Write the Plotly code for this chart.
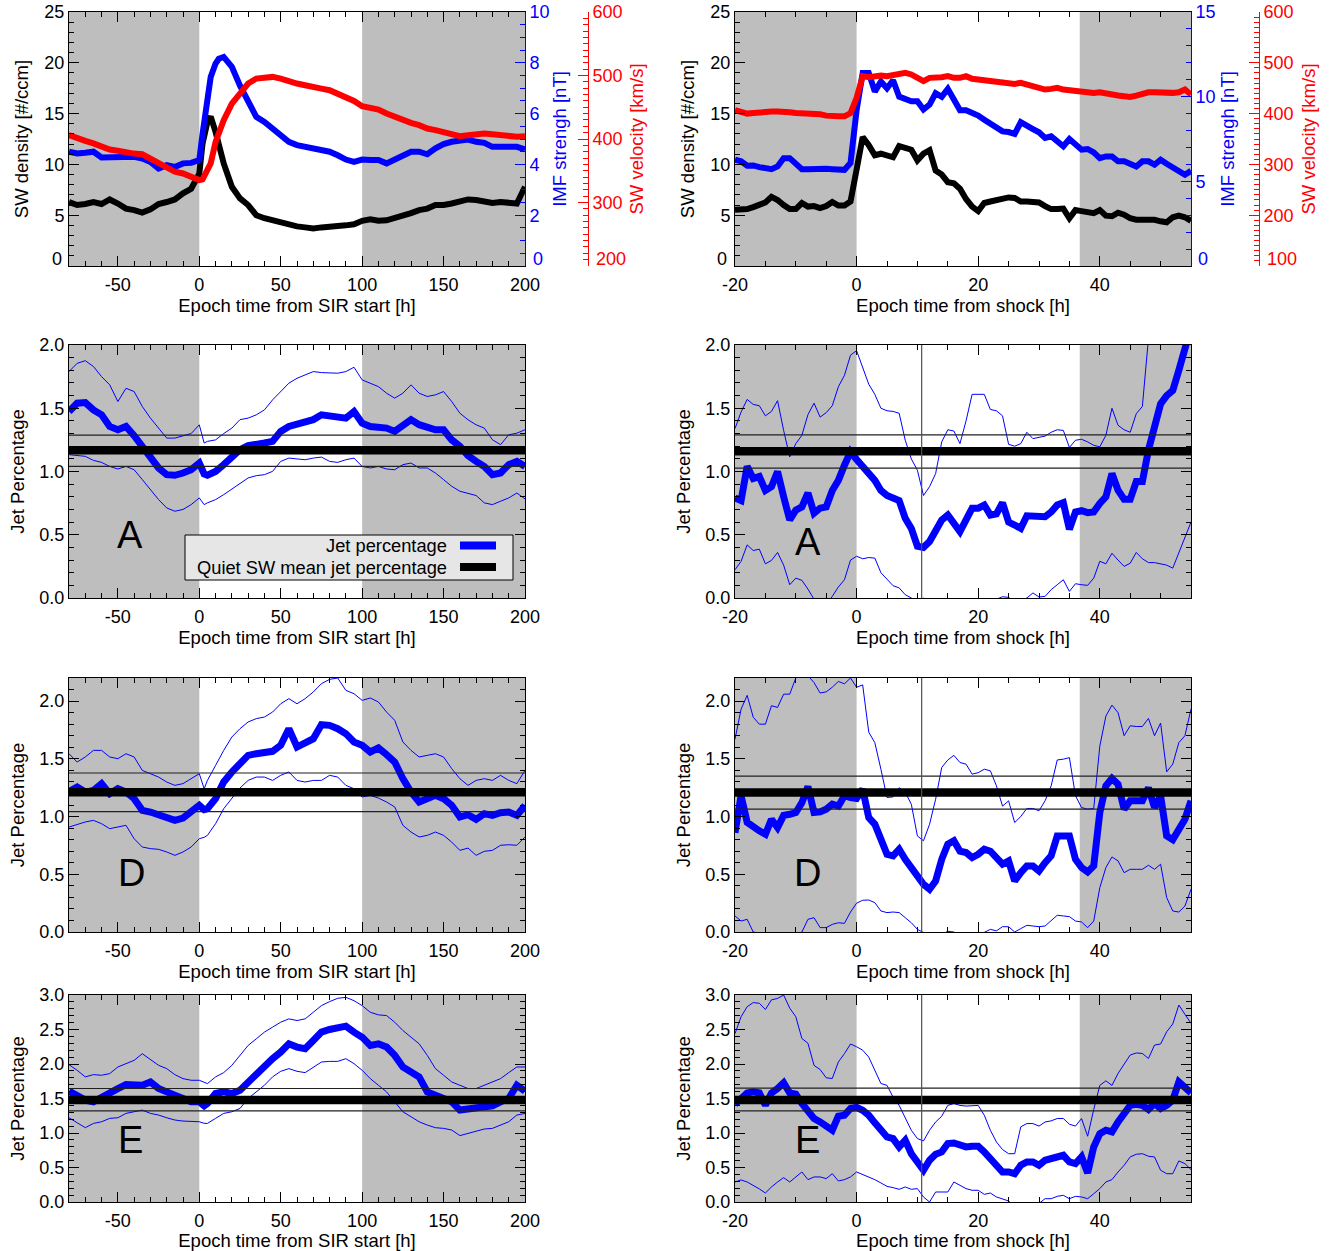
import plotly.graph_objects as go

W, H = 1329, 1251
FONT = "Liberation Sans, Arial, Helvetica, sans-serif"
BLUE, RED, BLACK, GRAY = "#0000ff", "#ff0000", "#000000", "#bebebe"

# ---------------- data: SIR superposed epoch (top left) ----------------
sir_sw_t = [-80, -75, -70, -65, -60, -55, -50, -45, -40, -35, -30, -25, -20, -15, -10, -5,
            0, 2, 5, 7, 10, 12, 15, 20, 25, 30, 35, 40, 45, 50, 55, 60, 65, 70, 75, 80, 85, 90, 95,
            100, 105, 110, 115, 120, 125, 130, 135, 140, 145, 150, 155, 160, 165, 170, 175, 180,
            185, 190, 195, 200]
sir_density = [6.3, 6.0, 6.1, 6.3, 6.1, 6.55, 6.15, 5.65, 5.5, 5.25, 5.57, 6.1, 6.3, 6.55, 7.15, 7.6,
               9.1, 12.05, 14.2, 14.7, 13.2, 11.9, 10.1,
               7.8, 6.65, 6.0, 5.0, 4.7, 4.5, 4.2, 4.0, 3.9, 3.8, 3.7, 3.8, 3.85, 3.85, 4.0, 4.1,
               4.45, 4.6, 4.45, 4.5, 4.7, 5.0, 5.2, 5.5, 5.65, 6.0, 6.0, 6.15, 6.3, 6.55, 6.5, 6.4,
               6.2, 6.3, 6.2, 6.15, 7.8]
sir_imf = [4.5, 4.43, 4.46, 4.5, 4.27, 4.27, 4.32, 4.32, 4.3, 4.23, 4.1, 3.84, 3.97, 3.9, 4.04, 4.06,
           4.17, 5.2, 6.5, 7.44, 7.97, 8.16, 8.23,
           7.84, 7.1, 6.5, 5.87, 5.67, 5.41, 5.08, 4.89, 4.76, 4.69, 4.59, 4.56, 4.5, 4.36, 4.19, 4.1,
           4.19, 4.17, 4.17, 4.04, 4.19, 4.3, 4.5, 4.5, 4.4, 4.63, 4.8, 4.89, 4.95, 4.98, 4.89, 4.85,
           4.69, 4.69, 4.69, 4.69, 4.59]
sir_velocity = [406, 400.8, 397, 393, 387.7, 383.5, 381.4, 378, 377, 376, 369, 361.5, 353.6, 348.4, 345.7, 341.5,
                335.3, 336.3, 351, 361.5, 395.5, 408.6, 429.6,
                455.8, 471.6, 487.3, 495.2, 496.7, 497.8, 495.2, 490, 487.3, 484.7, 483, 479.4, 476.8, 471.6,
                466.3, 460, 451.6, 449.5, 446.4, 440.1, 434.9, 429.6, 425.4, 421.8, 416.5, 413.9, 411.3,
                407.6, 404.5, 406, 407.6, 408.6, 407.6, 406, 403.4, 403.4, 404.5]

# ---------------- data: SIR jet percentages ----------------
sir_t = [-80, -75, -70, -65, -60, -55, -50, -45, -40, -35, -30, -25, -20, -15, -10, -5, 0, 3,
         5, 10, 15, 20, 25, 30, 35, 40, 45, 50, 55, 60, 65, 70, 75, 80, 85, 90, 95, 100,
         105, 110, 115, 120, 125, 130, 135, 140, 145, 150, 155, 160, 165, 170, 175, 180, 185, 190, 195, 200]
sir_A = [1.474, 1.54, 1.545, 1.487, 1.448, 1.356, 1.33, 1.356, 1.283, 1.2, 1.12, 1.028, 0.975, 0.97, 0.988, 1.014, 1.067, 0.98,
         0.97, 1.0, 1.054, 1.106, 1.172, 1.204, 1.21, 1.225, 1.238, 1.317, 1.356, 1.37, 1.382, 1.41, 1.448, 1.435, 1.422, 1.422, 1.474, 1.382,
         1.356, 1.356, 1.343, 1.317, 1.356, 1.41, 1.37, 1.343, 1.33, 1.33, 1.25, 1.2, 1.125, 1.08, 1.04, 0.975, 0.988, 1.054, 1.08, 1.04]
sir_A_hi = [1.79, 1.855, 1.876, 1.83, 1.75, 1.685, 1.553, 1.658, 1.632, 1.514, 1.422, 1.343, 1.264, 1.264, 1.283, 1.3, 1.369, 1.225,
            1.238, 1.25, 1.3, 1.343, 1.41, 1.422, 1.448, 1.487, 1.566, 1.632, 1.698, 1.737, 1.763, 1.79, 1.782, 1.782, 1.777, 1.79, 1.824, 1.724,
            1.698, 1.671, 1.619, 1.58, 1.619, 1.685, 1.619, 1.593, 1.606, 1.632, 1.553, 1.461, 1.409, 1.369, 1.343, 1.251, 1.212, 1.29, 1.303, 1.33]
sir_A_lo = [1.133, 1.125, 1.12, 1.088, 1.072, 1.04, 1.02, 1.04, 1.014, 0.936, 0.857, 0.778, 0.712, 0.686, 0.7, 0.738, 0.791, 0.738,
            0.752, 0.778, 0.817, 0.862, 0.909, 0.949, 0.967, 0.975, 1.001, 1.08, 1.106, 1.099, 1.093, 1.106, 1.114, 1.08, 1.072, 1.093, 1.106, 1.04,
            1.028, 1.04, 1.02, 1.014, 1.054, 1.067, 1.028, 1.028, 0.988, 0.936, 0.883, 0.844, 0.83, 0.81, 0.752, 0.738, 0.765, 0.791, 0.83, 0.783]
sir_D = [1.218, 1.256, 1.212, 1.227, 1.285, 1.198, 1.241, 1.212, 1.155, 1.054, 1.039, 1.016, 0.987, 0.967, 0.987, 1.039, 1.097, 1.06,
         1.068, 1.155, 1.299, 1.386, 1.458, 1.53, 1.544, 1.553, 1.565, 1.617, 1.761, 1.602, 1.631, 1.674, 1.796, 1.79, 1.761, 1.718, 1.646, 1.617,
         1.559, 1.594, 1.536, 1.472, 1.328, 1.212, 1.126, 1.155, 1.184, 1.155, 1.097, 0.996, 1.016, 0.976, 1.025, 1.01, 1.033, 1.039, 1.01, 1.097]
sir_D_hi = [1.544, 1.472, 1.516, 1.573, 1.573, 1.516, 1.501, 1.544, 1.516, 1.4, 1.371, 1.342, 1.299, 1.27, 1.285, 1.328, 1.371, 1.241,
            1.313, 1.443, 1.573, 1.689, 1.761, 1.819, 1.848, 1.862, 1.905, 1.977, 2.021, 1.977, 2.021, 2.079, 2.151, 2.188, 2.2, 2.093, 2.064, 2.006,
            2.027, 1.992, 1.905, 1.833, 1.646, 1.573, 1.516, 1.53, 1.544, 1.516, 1.415, 1.328, 1.27, 1.313, 1.328, 1.313, 1.357, 1.313, 1.285, 1.4]
sir_D_lo = [0.909, 0.93, 0.953, 0.967, 0.938, 0.895, 0.909, 0.924, 0.808, 0.736, 0.722, 0.716, 0.693, 0.664, 0.693, 0.736, 0.808, 0.82,
            0.837, 0.938, 1.068, 1.155, 1.247, 1.313, 1.342, 1.342, 1.313, 1.357, 1.386, 1.313, 1.299, 1.313, 1.313, 1.357, 1.342, 1.27, 1.241, 1.169,
            1.184, 1.16, 1.126, 1.083, 0.924, 0.866, 0.823, 0.837, 0.866, 0.837, 0.779, 0.707, 0.727, 0.664, 0.699, 0.707, 0.751, 0.756, 0.751, 0.823]
sir_E = [1.606, 1.548, 1.476, 1.452, 1.524, 1.572, 1.644, 1.702, 1.692, 1.692, 1.74, 1.644, 1.596, 1.548, 1.476, 1.452, 1.452, 1.394,
         1.428, 1.572, 1.596, 1.572, 1.62, 1.74, 1.861, 1.99, 2.077, 2.173, 2.293, 2.245, 2.221, 2.341, 2.462, 2.5, 2.519, 2.548, 2.462, 2.389,
         2.269, 2.293, 2.245, 2.125, 1.957, 1.885, 1.813, 1.596, 1.548, 1.5, 1.452, 1.332, 1.346, 1.346, 1.365, 1.394, 1.452, 1.5, 1.692, 1.606]
sir_E_hi = [1.99, 1.909, 1.813, 1.846, 1.837, 1.861, 1.957, 2.005, 2.053, 2.149, 2.067, 1.981, 1.933, 1.846, 1.788, 1.764, 1.764, 1.73,
            1.716, 1.813, 1.875, 1.981, 2.125, 2.269, 2.365, 2.462, 2.534, 2.606, 2.654, 2.63, 2.654, 2.75, 2.846, 2.904, 2.952, 2.966, 2.918, 2.846,
            2.75, 2.712, 2.702, 2.606, 2.486, 2.389, 2.293, 2.125, 1.933, 1.837, 1.74, 1.692, 1.644, 1.644, 1.692, 1.731, 1.788, 1.875, 1.957, 1.957]
sir_E_lo = [1.221, 1.154, 1.077, 1.139, 1.163, 1.212, 1.221, 1.284, 1.308, 1.332, 1.284, 1.26, 1.221, 1.188, 1.173, 1.163, 1.163, 1.14,
            1.139, 1.212, 1.284, 1.308, 1.356, 1.5, 1.596, 1.692, 1.813, 1.894, 1.933, 1.894, 1.875, 1.957, 2.029, 2.038, 2.038, 2.077, 2.005, 1.909,
            1.788, 1.692, 1.596, 1.452, 1.308, 1.236, 1.163, 1.115, 1.077, 1.067, 1.043, 0.962, 0.995, 1.019, 1.058, 1.067, 1.115, 1.163, 1.26, 1.284]

# ---------------- data: shock superposed epoch (right column) ----------------
shock_t = list(range(-20, 56))
shock_density = [5.53, 5.5, 5.6, 5.8, 6.0, 6.25, 6.8, 6.5, 6.0, 5.6, 5.6, 6.2, 5.85, 5.9, 5.7, 5.9, 6.3, 5.95, 5.95, 6.35,
                 9.5, 12.7, 11.9, 10.9, 11.05, 10.95, 10.7, 11.8, 11.6, 11.45,
                 10.4, 11.05, 11.4, 9.4, 9.0, 8.25, 8.15, 7.6, 6.6, 5.85,
                 5.4, 6.2, 6.35, 6.5, 6.7, 6.75, 6.7, 6.35, 6.35, 6.3,
                 6.25, 5.9, 5.6, 5.6, 5.65, 4.7, 5.5, 5.4, 5.35, 5.2,
                 5.5, 4.95, 4.9, 5.25, 5.05, 4.7, 4.55, 4.55, 4.55, 4.55,
                 4.4, 4.3, 4.8, 4.95, 4.8, 4.45]
shock_imf = [6.28, 6.18, 5.92, 5.94, 5.84, 5.78, 5.72, 5.88, 6.37, 6.37, 6.08, 5.72, 5.72, 5.74, 5.78, 5.74, 5.72, 5.68, 5.68, 6.08,
             9.2, 11.4, 11.4, 10.3, 10.9, 10.5, 10.97, 10.0, 9.83, 9.73,
             9.73, 9.24, 9.53, 10.2, 9.99, 10.46, 9.83, 9.2, 9.2, 9.08,
             8.88, 8.64, 8.41, 8.25, 7.95, 7.91, 7.8, 8.49, 8.25, 8.09,
             7.9, 7.56, 7.66, 7.36, 7.07, 7.5, 7.16, 6.87, 6.91, 6.71,
             6.37, 6.47, 6.47, 6.18, 6.18, 5.98, 5.88, 6.18, 6.18, 5.98,
             6.28, 6.04, 5.82, 5.58, 5.39, 5.62]
shock_velocity = [406.6, 402.6, 400, 401, 402.6, 402.6, 404, 404, 404, 402.6, 401, 401, 400, 399, 398.7, 396, 396.7, 394.7, 394.7, 401,
                  431, 473.7, 471.7, 473.7, 475, 473.7, 476.3, 478.3, 480.3, 477,
                  470.4, 463.8, 470.4, 470.4, 471.7, 473.7, 470.4, 470.4, 473.7, 468.4,
                  467, 463.8, 465, 463.8, 460.5, 460.5, 458.5, 460.5, 457.2, 455.3,
                  450.7, 447.4, 448.7, 450.7, 447.4, 446, 444, 444, 444, 440.8,
                  442, 439.5, 435.5, 435.5, 434.2, 432.9, 435.5, 439.5, 442, 442,
                  440.8, 440.8, 440.8, 442, 447.4, 437.5]

shock_A = [0.79, 0.77, 1.04, 0.945, 0.96, 0.85, 0.88, 1.0, 0.8, 0.617, 0.695, 0.72, 0.83, 0.67, 0.71, 0.72, 0.85, 0.93, 1.05, 1.155,
           1.095, 1.04, 0.98, 0.93, 0.85, 0.81, 0.79, 0.77, 0.63, 0.55,
           0.41, 0.40, 0.446, 0.54, 0.617, 0.656, 0.6, 0.525, 0.617, 0.71,
           0.71, 0.735, 0.656, 0.665, 0.753, 0.6, 0.577, 0.55, 0.65, 0.65,
           0.643, 0.643, 0.68, 0.735, 0.753, 0.543, 0.68, 0.69, 0.675, 0.68,
           0.748, 0.8, 0.984, 0.853, 0.78, 0.78, 0.92, 0.92, 1.17, 1.38,
           1.535, 1.6, 1.64, 1.8, 1.98, 2.14]
shock_A_hi = [1.34, 1.47, 1.57, 1.53, 1.52, 1.44, 1.475, 1.56, 1.325, 1.115, 1.22, 1.286, 1.45, 1.54, 1.43, 1.465, 1.52, 1.67, 1.76, 1.92,
              1.955, 1.82, 1.69, 1.61, 1.5, 1.48, 1.475, 1.46, 1.247, 1.10,
              1.01, 0.81, 0.88, 0.984, 1.234, 1.33, 1.32, 1.22, 1.4, 1.61,
              1.61, 1.61, 1.49, 1.48, 1.44, 1.215, 1.2, 1.22, 1.31, 1.26,
              1.27, 1.28, 1.31, 1.33, 1.325, 1.19, 1.247, 1.255, 1.234, 1.207,
              1.195, 1.286, 1.5, 1.365, 1.33, 1.31, 1.457, 1.514, 2.05, 2.4,
              2.6, 2.7, 2.8, 2.9, 3.0, 3.1]
shock_A_lo = [0.223, 0.29, 0.42, 0.375, 0.386, 0.27, 0.297, 0.36, 0.26, 0.105, 0.157, 0.14, 0.07, -0.01, -0.06, -0.05, 0.013, 0.087, 0.144, 0.3,
              0.33, 0.31, 0.32, 0.315, 0.2, 0.144, 0.097, 0.08, 0.026, 0.0,
              -0.04, 0.0, -0.07, -0.1, -0.15, -0.15, -0.12, -0.1, -0.1, -0.08,
              -0.06, -0.05, -0.03, -0.01, 0.01, 0.005, -0.03, -0.02, 0.0, 0.04,
              0.008, 0.013, 0.066, 0.105, 0.144, 0.052, 0.113, 0.105, 0.1, 0.157,
              0.29, 0.27, 0.354, 0.3, 0.25, 0.275, 0.36, 0.31, 0.28, 0.28,
              0.27, 0.26, 0.236, 0.354, 0.47, 0.6]
shock_D = [0.86, 1.18, 0.95, 0.905, 0.876, 0.847, 0.977, 0.905, 1.01, 1.02, 1.035, 1.12, 1.26, 1.035, 1.04, 1.064, 1.107, 1.09, 1.18, 1.165,
           1.156, 1.237, 0.99, 0.933, 0.8, 0.673, 0.66, 0.717, 0.63, 0.558,
           0.47, 0.413, 0.37, 0.442, 0.63, 0.76, 0.79, 0.70, 0.688, 0.645,
           0.673, 0.717, 0.70, 0.645, 0.587, 0.616, 0.442, 0.514, 0.572, 0.572,
           0.529, 0.6, 0.66, 0.832, 0.838, 0.832, 0.63, 0.558, 0.52, 0.572,
           1.035, 1.266, 1.33, 1.28, 1.064, 1.136, 1.136, 1.136, 1.25, 1.078,
           1.18, 0.832, 0.80, 0.905, 0.977, 1.136]
shock_D_hi = [1.67, 1.93, 2.05, 1.86, 1.8, 1.8, 1.96, 1.945, 2.06, 2.06, 2.2, 2.25, 2.22, 2.16, 2.07, 2.08, 2.12, 2.17, 2.15, 2.2,
              2.12, 2.14, 1.73, 1.64, 1.41, 1.165, 1.17, 1.25, 1.21, 1.107,
              0.832, 0.79, 0.933, 1.15, 1.425, 1.49, 1.53, 1.468, 1.454, 1.367,
              1.38, 1.41, 1.396, 1.266, 1.09, 1.136, 0.948, 1.0, 1.07, 1.07,
              1.05, 1.136, 1.266, 1.49, 1.497, 1.51, 1.18, 1.078, 1.064, 1.07,
              1.61, 1.87, 1.965, 1.9, 1.7, 1.786, 1.78, 1.78, 1.85, 1.7,
              1.81, 1.387, 1.454, 1.64, 1.7, 1.93]
shock_D_lo = [0.139, 0.095, 0.11, 0.0, -0.01, -0.03, -0.03, -0.03, -0.03, -0.03, -0.02, 0.0, 0.11, 0.124, 0.038, 0.038, 0.066, 0.08, 0.075, 0.173,
              0.25, 0.275, 0.277, 0.254, 0.182, 0.168, 0.173, 0.168, 0.124, 0.08,
              0.023, -0.005, -0.06, -0.03, -0.02, 0.006, 0.0, -0.03, -0.045, -0.06,
              -0.03, 0.0, 0.023, 0.01, 0.046, 0.046, 0.0, 0.029, 0.058, 0.052,
              0.046, 0.052, 0.095, 0.145, 0.139, 0.133, 0.095, 0.087, 0.038, 0.095,
              0.384, 0.558, 0.65, 0.616, 0.514, 0.543, 0.543, 0.543, 0.578, 0.543,
              0.587, 0.298, 0.182, 0.173, 0.225, 0.37]
shock_E = [1.417, 1.514, 1.58, 1.597, 1.58, 1.403, 1.58, 1.645, 1.727, 1.58, 1.563, 1.427, 1.32, 1.21, 1.16, 1.089, 1.04, 1.243, 1.258, 1.355,
           1.37, 1.33, 1.258, 1.147, 1.04, 0.943, 0.919, 0.798, 0.895, 0.70,
           0.58, 0.46, 0.605, 0.692, 0.726, 0.847, 0.856, 0.822, 0.798, 0.808,
           0.808, 0.726, 0.629, 0.508, 0.435, 0.435, 0.41, 0.532, 0.58, 0.58,
           0.532, 0.605, 0.629, 0.677, 0.677, 0.58, 0.556, 0.653, 0.42, 0.798,
           0.99, 1.04, 1.016, 1.16, 1.28, 1.40, 1.417, 1.40, 1.34, 1.427,
           1.355, 1.40, 1.475, 1.74, 1.66, 1.58]
shock_E_hi = [2.44, 2.685, 2.83, 2.89, 2.88, 2.79, 2.93, 2.95, 3.0, 2.81, 2.685, 2.37, 2.30, 1.98, 1.92, 1.80, 1.79, 2.03, 2.15, 2.29,
              2.25, 2.2, 2.10, 1.92, 1.717, 1.69, 1.52, 1.40, 1.21, 1.04,
              0.919, 0.885, 1.04, 1.16, 1.243, 1.40, 1.427, 1.40, 1.39, 1.40,
              1.40, 1.258, 1.04, 0.87, 0.76, 0.70, 0.70, 1.089, 1.137, 1.137,
              1.10, 1.16, 1.176, 1.21, 1.21, 1.127, 1.10, 1.21, 0.953, 1.34,
              1.69, 1.756, 1.69, 1.863, 2.0, 2.13, 2.16, 2.153, 2.08, 2.274,
              2.29, 2.467, 2.58, 2.855, 2.72, 2.59]
shock_E_lo = [0.29, 0.32, 0.29, 0.242, 0.19, 0.13, 0.218, 0.29, 0.353, 0.29, 0.363, 0.435, 0.324, 0.363, 0.363, 0.339, 0.41, 0.305, 0.324, 0.363,
              0.435, 0.40, 0.363, 0.324, 0.276, 0.227, 0.208, 0.184, 0.218, 0.184,
              0.194, 0.073, 0.0, 0.145, 0.145, 0.145, 0.29, 0.242, 0.194, 0.17,
              0.17, 0.111, 0.13, 0.073, 0.048, 0.015, -0.07, -0.1, -0.08, -0.05,
              -0.02, 0.048, 0.048, 0.082, 0.097, 0.048, 0.082, 0.073, 0.048, 0.12,
              0.194, 0.29, 0.324, 0.435, 0.532, 0.653, 0.692, 0.70, 0.663, 0.653,
              0.46, 0.41, 0.41, 0.595, 0.556, 0.47]

# quiet solar wind mean jet percentage and its +- band (mean, upper, lower)
quiet_sir = {"A": (1.167, 1.288, 1.04), "D": (1.21, 1.377, 1.042), "E": (1.48, 1.645, 1.32)}
quiet_shock = {"A": (1.16, 1.29, 1.026), "D": (1.208, 1.35, 1.064), "E": (1.48, 1.65, 1.32)}

sir_range = [-80, 200]
shock_range = [-20, 55]
sir_shade = [(-80, 0), (100, 200)]
shock_shade = [(-20, 0), (36.7, 55)]
shock_marker_t = 10.7
sir_xticks = [-50, 0, 50, 100, 150, 200]
shock_xticks = [-20, 0, 20, 40]
jet_ranges = {"A": [0, 2.0], "D": [0, 2.2], "E": [0, 3.0]}
density_ticks = [0, 5, 10, 15, 20, 25]
imf_ticks_sir = [0, 2, 4, 6, 8, 10]
imf_ticks_shock = [0, 5, 10, 15]
vel_ticks_sir = [200, 300, 400, 500, 600]
vel_ticks_shock = [100, 200, 300, 400, 500, 600]

# ---------------- layout helpers (window-pixel boxes -> paper) ----------------
def px(x):
    return x / W

def py(y):
    return 1 - y / H

def xdom(a, b):
    return [px(a), px(b)]

def ydom(top, bot):
    return [py(bot), py(top)]

def xid(i):
    return "x" if i == 1 else f"x{i}"

def yid(i):
    return "y" if i == 1 else f"y{i}"

def labels_without_first(vals):
    # the lowest label is drawn separately, lifted into the panel like the original
    return [""] + [str(v) for v in vals[1:]]

COLS = {"L": (69, 525), "R": (735, 1191)}
ROWS = [(12, 266), (345, 598), (678, 932), (995, 1202)]

fig = go.Figure()
layout = dict(width=W, height=H, autosize=False, margin=dict(l=0, r=0, t=0, b=0, pad=0),
              showlegend=False, paper_bgcolor="white", plot_bgcolor="white",
              font=dict(family=FONT, size=18, color=BLACK), shapes=[], annotations=[])

def base_axis(**kw):
    d = dict(showline=True, linecolor=BLACK, linewidth=1, mirror="ticks", ticks="inside",
             ticklen=10, tickwidth=1, tickcolor=BLACK, showgrid=False, zeroline=False,
             automargin=False, ticklabeloverflow="allow", tickfont=dict(size=18, color=BLACK))
    d.update(kw)
    return d

def xaxis_for(col, anchor):
    rng = sir_range if col == "L" else shock_range
    tv = sir_xticks if col == "L" else shock_xticks
    title = "Epoch time from SIR start [h]" if col == "L" else "Epoch time from shock [h]"
    return base_axis(domain=xdom(*COLS[col]), anchor=anchor, range=rng,
                     tickmode="array", tickvals=tv, ticktext=[str(v) for v in tv],
                     minor=dict(ticks="inside", ticklen=5, tickcolor=BLACK, tickmode="linear",
                                tick0=0, dtick=10 if col == "L" else 5),
                     ticklabelstandoff=2,
                     title=dict(text=title, font=dict(size=18.5), standoff=0))

panels = [("L", 0, None), ("R", 0, None), ("L", 1, "A"), ("R", 1, "A"),
          ("L", 2, "D"), ("R", 2, "D"), ("L", 3, "E"), ("R", 3, "E")]

for i, (col, r, key) in enumerate(panels, start=1):
    xn, yn = xid(i), yid(i)
    layout[f"xaxis{i}"] = xaxis_for(col, yn)
    if r == 0:
        layout[f"yaxis{i}"] = base_axis(domain=ydom(*ROWS[r]), anchor=xn, range=[0, 25],
                                        tickmode="array", tickvals=density_ticks,
                                        ticktext=labels_without_first(density_ticks),
                                        mirror=False, ticklabelstandoff=0,
                                        minor=dict(ticks="inside", ticklen=5, tickcolor=BLACK,
                                                   tickmode="linear", tick0=0, dtick=1),
                                        title=dict(text="SW density [#/ccm]", font=dict(size=18.5), standoff=10))
    else:
        layout[f"yaxis{i}"] = base_axis(domain=ydom(*ROWS[r]), anchor=xn, range=jet_ranges[key], dtick=0.5,
                                        tickformat=".1f", ticklabelstandoff=0,
                                        minor=dict(ticks="inside", ticklen=5, tickcolor=BLACK, dtick=0.1),
                                        title=dict(text="Jet Percentage", font=dict(size=18.5), standoff=9))
    shades = sir_shade if col == "L" else shock_shade
    for a, b in shades:
        layout["shapes"].append(dict(type="rect", xref=xn, yref=f"{yn} domain", x0=a, x1=b, y0=0, y1=1,
                                     fillcolor=GRAY, line=dict(width=0), layer="below"))

# extra right-hand axes for the top row
def right_axis(over, anchor, rng, tv, mdtick, color, title, standoff, position=None):
    d = base_axis(overlaying=over, anchor=anchor, side="right", range=rng,
                  tickmode="array", tickvals=tv, ticktext=labels_without_first(tv),
                  mirror=False, linecolor=color, tickcolor=color, ticklabelstandoff=0,
                  tickfont=dict(size=18, color=color),
                  minor=dict(ticks="inside", ticklen=5, tickcolor=color, tickmode="linear",
                             tick0=0, dtick=mdtick),
                  title=dict(text=title, font=dict(size=18.5, color=color), standoff=standoff))
    if position is not None:
        d["position"] = position
    return d

layout["yaxis9"] = right_axis("y", "x", [0, 10], imf_ticks_sir, 0.5, BLUE, "IMF strengh [nT]", 4)
layout["yaxis10"] = right_axis("y", "free", [200, 600], vel_ticks_sir, 10, RED, "SW velocity [km/s]", 8, px(588))
layout["yaxis11"] = right_axis("y2", "x2", [0, 15], imf_ticks_shock, 1, BLUE, "IMF strengh [nT]", 6)
layout["yaxis12"] = right_axis("y2", "free", [100, 600], vel_ticks_shock, 10, RED, "SW velocity [km/s]", 9, px(1259))

# lowest labels of the top-row axes, lifted into the panel as in the original
low_labels = [(density_ticks[0], 64, "right", BLACK), (imf_ticks_sir[0], 531, "left", BLUE),
              (vel_ticks_sir[0], 594, "left", RED), (density_ticks[0], 729, "right", BLACK),
              (imf_ticks_shock[0], 1196, "left", BLUE), (vel_ticks_shock[0], 1265, "left", RED)]
for val, lx, anch, colr in low_labels:
    layout["annotations"].append(dict(text=str(val), x=px(lx), y=py(259), xref="paper", yref="paper",
                                      showarrow=False, xanchor=anch, yanchor="middle",
                                      font=dict(size=18, color=colr)))

# ---------------- traces ----------------
def line(x, y, xa, ya, color, width):
    fig.add_trace(go.Scatter(x=x, y=y, xaxis=xa, yaxis=ya, mode="lines",
                             line=dict(color=color, width=width), hoverinfo="skip"))

# top row
line(sir_sw_t, sir_density, "x", "y", BLACK, 6)
line(sir_sw_t, sir_imf, "x", "y9", BLUE, 6)
line(sir_sw_t, sir_velocity, "x", "y10", RED, 6)
line(shock_t, shock_density, "x2", "y2", BLACK, 6)
line(shock_t, shock_imf, "x2", "y11", BLUE, 6)
line(shock_t, shock_velocity, "x2", "y12", RED, 6)

jet = {
    3: (sir_t, sir_A, sir_A_hi, sir_A_lo, quiet_sir["A"], sir_range),
    4: (shock_t, shock_A, shock_A_hi, shock_A_lo, quiet_shock["A"], shock_range),
    5: (sir_t, sir_D, sir_D_hi, sir_D_lo, quiet_sir["D"], sir_range),
    6: (shock_t, shock_D, shock_D_hi, shock_D_lo, quiet_shock["D"], shock_range),
    7: (sir_t, sir_E, sir_E_hi, sir_E_lo, quiet_sir["E"], sir_range),
    8: (shock_t, shock_E, shock_E_hi, shock_E_lo, quiet_shock["E"], shock_range),
}
for i, (t, mid, hi, lo, q, rng) in jet.items():
    xa, ya = xid(i), yid(i)
    line(t, hi, xa, ya, BLUE, 1)
    line(t, lo, xa, ya, BLUE, 1)
    line(t, mid, xa, ya, BLUE, 7)
    line(rng, [q[1], q[1]], xa, ya, "#202020", 1.2)
    line(rng, [q[2], q[2]], xa, ya, "#202020", 1.2)
    line(rng, [q[0], q[0]], xa, ya, BLACK, 8.5)
    if i % 2 == 0:
        layout["shapes"].append(dict(type="line", xref=xa, yref=f"{ya} domain", x0=shock_marker_t,
                                     x1=shock_marker_t, y0=0, y1=1, line=dict(color="#505050", width=1.2)))

# panel letters
letters = [("A", 130, 535), ("A", 808, 542), ("D", 131, 873), ("D", 808, 873), ("E", 130, 1140), ("E", 808, 1140)]
for txt, lx, ly in letters:
    layout["annotations"].append(dict(text=txt, x=px(lx), y=py(ly), xref="paper", yref="paper",
                                      showarrow=False, xanchor="center", yanchor="middle",
                                      font=dict(size=38, color=BLACK)))

# legend box (panel A, SIR)
layout["shapes"].append(dict(type="rect", xref="paper", yref="paper", x0=px(185), x1=px(513),
                             y0=py(580), y1=py(535), fillcolor="#e6e6e6",
                             line=dict(color=BLACK, width=1)))
for txt, ly, col in [("Jet percentage", 545.5, BLUE), ("Quiet SW mean jet percentage", 567, BLACK)]:
    layout["annotations"].append(dict(text=txt, x=px(449), y=py(ly), xref="paper", yref="paper",
                                      showarrow=False, xanchor="right", yanchor="middle",
                                      font=dict(size=18.3, color=BLACK)))
    layout["shapes"].append(dict(type="line", xref="paper", yref="paper", x0=px(460), x1=px(496),
                                 y0=py(ly), y1=py(ly), line=dict(color=col, width=8)))

fig.update_layout(**layout)
fig.write_html("out.html", config={"displayModeBar": False, "staticPlot": True},
               post_script="document.body.style.margin='0px';"
                           "document.body.style.overflow='hidden';"
                           "document.documentElement.style.overflow='hidden';")
